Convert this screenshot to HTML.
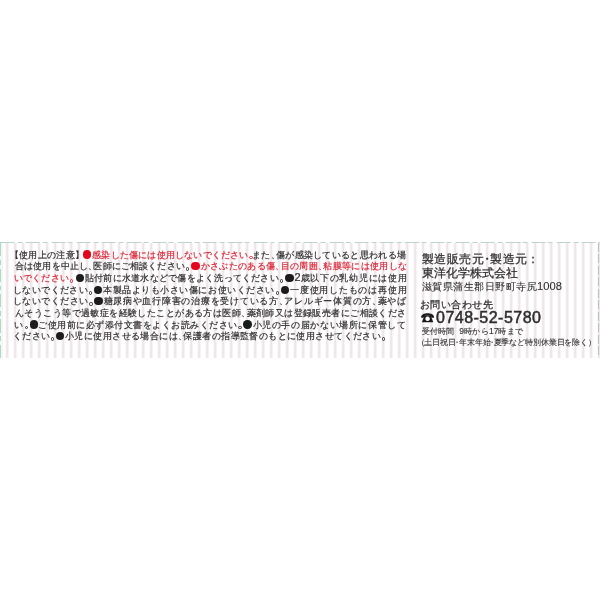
<!DOCTYPE html>
<html lang="ja"><head><meta charset="utf-8">
<style>
html,body{margin:0;padding:0;background:#fff;width:600px;height:600px;overflow:hidden}
body{position:relative;font-family:"Liberation Sans",sans-serif;color:#2e2e2e}
.wrap{position:absolute;left:0;top:0;width:600px;height:600px;will-change:transform}
.band{position:absolute;left:0;top:243px;width:600px;height:114.5px;
 background:linear-gradient(90deg,transparent 0 1.1px,#f0e5ea 2.3px 3.7px,transparent 4.9px);
 background-size:8px 100%;background-position:4.2px 0}
.topline{position:absolute;left:0;top:241.5px;width:600px;height:1.5px;
 background:repeating-linear-gradient(90deg,#bcd5c8 0 14.2px,transparent 14.2px 16.8px,#bcd5c8 16.8px 21.8px,transparent 21.8px 25.27px);background-position:0.6px 0}
.lglow{position:absolute;left:0;top:242px;width:2.5px;height:115.5px;background:#f0f9f4}
.lline{position:absolute;left:0.1px;top:242.5px;width:1.4px;height:115px;background:repeating-linear-gradient(180deg,#b5d6c3 0 13px,transparent 13px 17px,#b5d6c3 17px 22px,transparent 22px 25.5px)}
.rline{position:absolute;left:598px;top:242.5px;width:1.2px;height:115px;background:repeating-linear-gradient(180deg,#bcc2bf 0 9px,transparent 9px 11.5px)}
.l,.R{position:absolute;white-space:nowrap;-webkit-text-stroke:0.25px currentColor}
.l{font-size:9px;line-height:9px;-webkit-text-stroke:0.2px currentColor}
.R{line-height:1}
.l b,.R b{display:inline-block;font-weight:normal;width:var(--w);overflow:visible}
.l b.n,.R b.n{width:calc(var(--w) - 0.45em)}
.l b.nl,.R b.nl{width:calc(var(--w) - 0.5em);text-indent:-0.5em}
.R b.nc{width:calc(var(--w) - 0.6em);text-indent:-0.3em}
.R b.nk{width:calc(var(--w) - 0.1em);text-indent:-0.1em}
.b{position:absolute;display:block;width:8.4px;height:8.4px;border-radius:50%;margin:-0.2px 0 0 -0.2px}
.m{display:inline-block;width:5px;height:9px;vertical-align:top;position:relative}
.m::after{content:"";position:absolute;left:0.8px;top:5.3px;width:3.4px;height:3.4px;box-sizing:border-box;border:0.95px solid currentColor;border-radius:50%}
.ph{-webkit-text-stroke:0.5px currentColor}
.R .a,.l .a{font-size:1.22em;line-height:0}
.ph .a{font-size:1em}

.R.lt{-webkit-text-stroke:0.1px currentColor}
.R.lt .a{font-size:1.12em}

.R b.sp{width:0.6em}

</style></head><body>
<div class="wrap"><div class="band"></div>
<div class="lglow"></div><div class="lline"></div>
<div class="topline"></div>
<div class="rline"></div>
<svg style="position:absolute;left:421px;top:313px" width="14" height="10" viewBox="0 0 14 10"><path d="M0.1,4.4 C-0.1,1.4 3.2,0.2 6.6,0.2 C10,0.2 13.3,1.4 13.1,4.4 C12.2,4.9 11.1,4.9 10.3,4.4 L10,3.1 C8.6,2.6 4.6,2.6 3.2,3.1 L2.9,4.4 C2.1,4.9 1,4.9 0.1,4.4 Z" fill="#1a1a1a"/><path d="M3.4,2.8 L9.8,2.8 L12.3,9.3 L0.9,9.3 Z M6.6,3.6 A2.25,2.25 0 1 0 6.61,3.6 Z" fill="#1a1a1a" fill-rule="evenodd"/></svg>

<div class="l" style="left:14.30px;top:250.5px;color:#2e2e2e;--w:9.314px"><b class="nl">【</b><b>使</b><b>用</b><b>上</b><b>の</b><b>注</b><b>意</b><b class="n">】</b></div>
<i class="b" style="left:82.8px;top:250.6px;background:#e3061e"></i>
<div class="l" style="left:92.30px;top:250.5px;color:#dc2535;--w:9.188px"><b>感</b><b>染</b><b>し</b><b>た</b><b>傷</b><b>に</b><b>は</b><b>使</b><b>用</b><b>し</b><b>な</b><b>い</b><b>で</b><b>く</b><b>だ</b><b>さ</b><b>い</b><i class="m"></i></div>
<div class="l" style="left:252.00px;top:250.5px;color:#2e2e2e;--w:9.325px"><b>ま</b><b>た</b><b class="n">、</b><b>傷</b><b>が</b><b>感</b><b>染</b><b>し</b><b>て</b><b>い</b><b>る</b><b>と</b><b>思</b><b>わ</b><b>れ</b><b>る</b><b>場</b></div>
<div class="l" style="left:15.00px;top:262px;color:#2e2e2e;--w:9.158px"><b>合</b><b>は</b><b>使</b><b>用</b><b>を</b><b>中</b><b>止</b><b>し</b><b class="n">、</b><b>医</b><b>師</b><b>に</b><b>ご</b><b>相</b><b>談</b><b>く</b><b>だ</b><b>さ</b><b>い</b><i class="m"></i></div>
<i class="b" style="left:191.5px;top:262.1px;background:#e3061e"></i>
<div class="l" style="left:200.50px;top:262px;color:#dc2535;--w:9.350px"><b>か</b><b>さ</b><b>ぶ</b><b>た</b><b>の</b><b>あ</b><b>る</b><b>傷</b><b class="n">、</b><b>目</b><b>の</b><b>周</b><b>囲</b><b class="n">、</b><b>粘</b><b>膜</b><b>等</b><b>に</b><b>は</b><b>使</b><b>用</b><b>し</b><b>な</b></div>
<div class="l" style="left:14.00px;top:274px;color:#dc2535;--w:9.167px"><b>い</b><b>で</b><b>く</b><b>だ</b><b>さ</b><b>い</b><i class="m"></i></div>
<i class="b" style="left:76px;top:274.1px;background:#1c1c1c"></i>
<div class="l" style="left:85.00px;top:274px;color:#2e2e2e;--w:9.238px"><b>貼</b><b>付</b><b>前</b><b>に</b><b>水</b><b>道</b><b>水</b><b>な</b><b>ど</b><b>で</b><b>傷</b><b>を</b><b>よ</b><b>く</b><b>洗</b><b>っ</b><b>て</b><b>く</b><b>だ</b><b>さ</b><b>い</b><i class="m"></i></div>
<i class="b" style="left:285.5px;top:274.1px;background:#1c1c1c"></i>
<div class="l" style="left:294.50px;top:274px;color:#2e2e2e;--w:9.725px"><span class="a">2</span><b>歳</b><b>以</b><b>下</b><b>の</b><b>乳</b><b>幼</b><b>児</b><b>に</b><b>は</b><b>使</b><b>用</b></div>
<div class="l" style="left:13.00px;top:286px;color:#2e2e2e;--w:9.375px"><b>し</b><b>な</b><b>い</b><b>で</b><b>く</b><b>だ</b><b>さ</b><b>い</b><i class="m"></i></div>
<i class="b" style="left:94px;top:286.1px;background:#1c1c1c"></i>
<div class="l" style="left:103.00px;top:286px;color:#2e2e2e;--w:9.556px"><b>本</b><b>製</b><b>品</b><b>よ</b><b>り</b><b>も</b><b>小</b><b>さ</b><b>い</b><b>傷</b><b>に</b><b>お</b><b>使</b><b>い</b><b>く</b><b>だ</b><b>さ</b><b>い</b><i class="m"></i></div>
<i class="b" style="left:281px;top:286.1px;background:#1c1c1c"></i>
<div class="l" style="left:290.00px;top:286px;color:#2e2e2e;--w:9.795px"><b>一</b><b>度</b><b>使</b><b>用</b><b>し</b><b>た</b><b>も</b><b>の</b><b>は</b><b>再</b><b>使</b><b>用</b></div>
<div class="l" style="left:13.00px;top:297px;color:#2e2e2e;--w:9.438px"><b>し</b><b>な</b><b>い</b><b>で</b><b>く</b><b>だ</b><b>さ</b><b>い</b><i class="m"></i></div>
<i class="b" style="left:94.5px;top:297.1px;background:#1c1c1c"></i>
<div class="l" style="left:103.50px;top:297px;color:#2e2e2e;--w:9.748px"><b>糖</b><b>尿</b><b>病</b><b>や</b><b>血</b><b>行</b><b>障</b><b>害</b><b>の</b><b>治</b><b>療</b><b>を</b><b>受</b><b>け</b><b>て</b><b>い</b><b>る</b><b>方</b><b class="n">、</b><b>ア</b><b>レ</b><b>ル</b><b>ギ</b><b>ー</b><b>体</b><b>質</b><b>の</b><b>方</b><b class="n">、</b><b>薬</b><b>や</b><b>ば</b></div>
<div class="l" style="left:15.00px;top:309px;color:#2e2e2e;--w:9.434px"><b>ん</b><b>そ</b><b>う</b><b>こ</b><b>う</b><b>等</b><b>で</b><b>過</b><b>敏</b><b>症</b><b>を</b><b>経</b><b>験</b><b>し</b><b>た</b><b>こ</b><b>と</b><b>が</b><b>あ</b><b>る</b><b>方</b><b>は</b><b>医</b><b>師</b><b class="n">、</b><b>薬</b><b>剤</b><b>師</b><b>又</b><b>は</b><b>登</b><b>録</b><b>販</b><b>売</b><b>者</b><b>に</b><b>ご</b><b>相</b><b>談</b><b>く</b><b>だ</b><b>さ</b></div>
<div class="l" style="left:14.00px;top:320.5px;color:#2e2e2e;--w:10.000px"><b>い</b><i class="m"></i></div>
<i class="b" style="left:30px;top:320.6px;background:#1c1c1c"></i>
<div class="l" style="left:38.00px;top:320.5px;color:#2e2e2e;--w:9.500px"><b>ご</b><b>使</b><b>用</b><b>前</b><b>に</b><b>必</b><b>ず</b><b>添</b><b>付</b><b>文</b><b>書</b><b>を</b><b>よ</b><b>く</b><b>お</b><b>読</b><b>み</b><b>く</b><b>だ</b><b>さ</b><b>い</b><i class="m"></i></div>
<i class="b" style="left:243.5px;top:320.6px;background:#1c1c1c"></i>
<div class="l" style="left:252.50px;top:320.5px;color:#2e2e2e;--w:9.633px"><b>小</b><b>児</b><b>の</b><b>手</b><b>の</b><b>届</b><b>か</b><b>な</b><b>い</b><b>場</b><b>所</b><b>に</b><b>保</b><b>管</b><b>し</b><b>て</b></div>
<div class="l" style="left:13.00px;top:332px;color:#2e2e2e;--w:9.250px"><b>く</b><b>だ</b><b>さ</b><b>い</b><i class="m"></i></div>
<i class="b" style="left:56px;top:332.1px;background:#1c1c1c"></i>
<div class="l" style="left:65.00px;top:332px;color:#2e2e2e;--w:9.424px"><b>小</b><b>児</b><b>に</b><b>使</b><b>用</b><b>さ</b><b>せ</b><b>る</b><b>場</b><b>合</b><b>に</b><b>は</b><b class="n">、</b><b>保</b><b>護</b><b>者</b><b>の</b><b>指</b><b>導</b><b>監</b><b>督</b><b>の</b><b>も</b><b>と</b><b>に</b><b>使</b><b>用</b><b>さ</b><b>せ</b><b>て</b><b>く</b><b>だ</b><b>さ</b><b>い</b><i class="m"></i></div>
<div class="R" style="left:421.50px;top:253.80px;font-size:11.5px;--w:12.622px"><b>製</b><b>造</b><b>販</b><b>売</b><b>元</b><b class="nc">・</b><b>製</b><b>造</b><b>元</b><b class="nk">：</b></div>
<div class="R" style="left:421.50px;top:268.00px;font-size:11.5px;--w:12.000px"><b>東</b><b>洋</b><b>化</b><b>学</b><b>株</b><b>式</b><b>会</b><b>社</b></div>
<div class="R lt" style="left:422.00px;top:282.00px;font-size:10px;--w:10.455px"><b>滋</b><b>賀</b><b>県</b><b>蒲</b><b>生</b><b>郡</b><b>日</b><b>野</b><b>町</b><b>寺</b><b>尻</b><span class="a">1008</span></div>
<div class="R" style="left:420.00px;top:300.30px;font-size:9.5px;--w:10.433px"><b>お</b><b>問</b><b>い</b><b>合</b><b>わ</b><b>せ</b><b>先</b></div>
<div class="R lt" style="left:421.50px;top:328.00px;font-size:7.6px;--w:8.322px"><b>受</b><b>付</b><b>時</b><b>間</b><b class="sp"></b><span class="a">9</span><b>時</b><b>か</b><b>ら</b><span class="a">17</span><b>時</b><b>ま</b><b>で</b></div>
<div class="R lt" style="left:420.50px;top:338.80px;font-size:8px;--w:7.878px"><b class="nl">（</b><b>土</b><b>日</b><b>祝</b><b>日</b><b class="nc">・</b><b>年</b><b>末</b><b>年</b><b>始</b><b class="nc">・</b><b>夏</b><b>季</b><b>な</b><b>ど</b><b>特</b><b>別</b><b>休</b><b>業</b><b>日</b><b>を</b><b>除</b><b>く</b><b class="n">）</b></div>
<div class="R ph" style="left:436.00px;top:310.30px;font-size:16px;letter-spacing:0.482px">0748-52-5780</div></div>
</body></html>
